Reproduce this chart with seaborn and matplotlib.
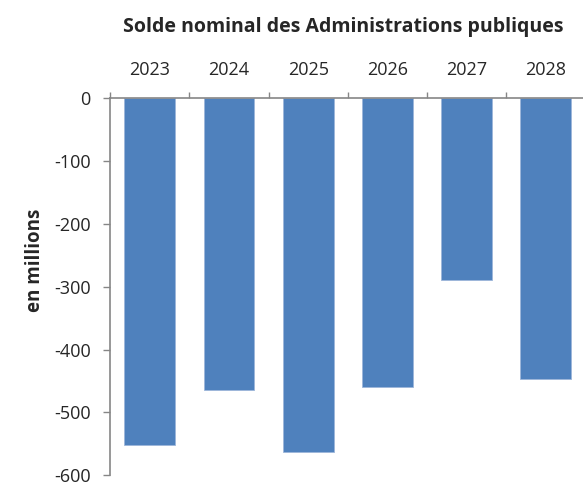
import numpy as np
import pandas as pd
import matplotlib
matplotlib.use("Agg")
import matplotlib.pyplot as plt
import seaborn as sns

# données
annees  = ["2023", "2024", "2025", "2026", "2027", "2028"]
soldes  = [-552, -464, -563, -460, -289, -447]
yticks  = [0, -100, -200, -300, -400, -500, -600]

df = pd.DataFrame({"annee": annees, "solde": soldes})

sns.set_style("white")
plt.rcParams['font.family'] = ['Open Sans', 'DejaVu Sans']

fig = plt.figure(figsize=(5.83, 4.82), dpi=100)
ax = fig.add_axes([0.189, 0.014, 0.815, 0.782])

sns.barplot(data=df, x="annee", y="solde", color="#4F81BD",
            width=0.64, saturation=1, edgecolor="#9DB6DA", linewidth=0.6, ax=ax)

ax.set_ylim(-600, 0)
ax.set_xlim(-0.5, len(annees) - 0.5)
ax.set_yticks(yticks)
ax.set_yticklabels([str(v) for v in yticks], fontsize=13)

ax.xaxis.tick_top()
ax.set_xticks(range(len(annees)))
ax.set_xticklabels(annees, fontsize=13)
ax.set_xticks(np.arange(-0.5, len(annees), 1.0), minor=True)
ax.tick_params(axis="x", which="major", length=0, pad=14)
ax.tick_params(axis="x", which="minor", length=4, width=1, color="#868686", direction="out")
ax.tick_params(axis="y", length=5, width=1, color="#868686", direction="out", pad=9, left=True)

for s in ["bottom", "right"]:
    ax.spines[s].set_visible(False)
for s in ["top", "left"]:
    ax.spines[s].set_color("#868686")
    ax.spines[s].set_linewidth(1.2)

ax.set_xlabel("")
ax.set_ylabel("")

fig.text(0.589, 0.944, "Solde nominal des Administrations publiques",
         ha="center", va="center", fontsize=14, fontweight="bold")
fig.text(0.06, 0.46, "en millions", rotation=90, ha="center", va="center",
         fontsize=13.5, fontweight="bold")

fig.savefig("out.png", dpi=100)
